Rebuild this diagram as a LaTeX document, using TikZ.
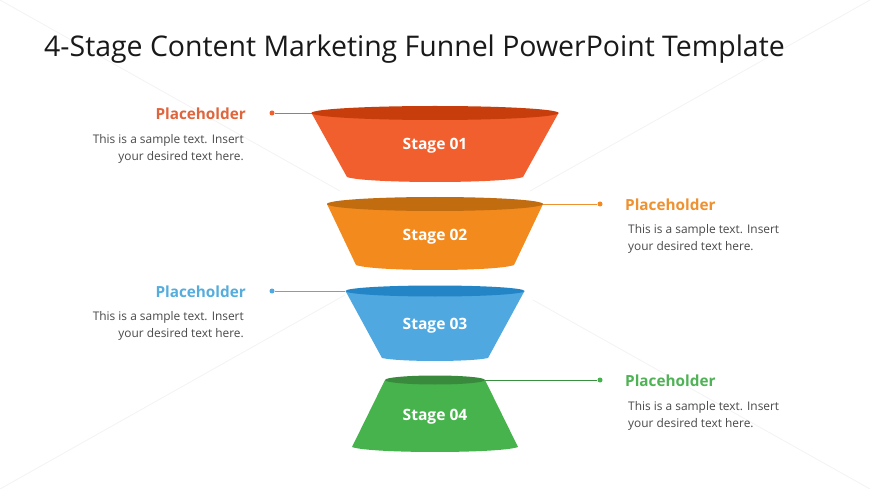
\documentclass[tikz,border=0pt]{standalone}
\usepackage{fontspec}
\setmainfont{Open Sans}
\definecolor{orgA}{HTML}{F15F2E}\definecolor{orgAd}{HTML}{C73E0C}\definecolor{orgAt}{HTML}{E0653C}
\definecolor{ambA}{HTML}{F28A1E}\definecolor{ambAd}{HTML}{C26C10}\definecolor{ambAt}{HTML}{EE9130}
\definecolor{bluA}{HTML}{4FA8E0}\definecolor{bluAd}{HTML}{2384C6}\definecolor{bluAt}{HTML}{55ADDD}
\definecolor{grnA}{HTML}{46B34D}\definecolor{grnAd}{HTML}{3A8A3E}\definecolor{grnAt}{HTML}{4FB256}
\definecolor{bodytxt}{HTML}{4A4A4A}
\tikzset{
 x=1pt,y=-1pt,
 titletext/.style={anchor=west,inner sep=0,font=\fontsize{28.45}{32}\selectfont,text=black!90},
 stagetext/.style={inner sep=0,text=white,font=\fontsize{15.6}{18}\selectfont\bfseries},
 headtext/.style={inner sep=0,font=\fontsize{15.3}{18}\selectfont\bfseries},
 bodyr/.style={inner sep=0,anchor=east,text=bodytxt,font=\fontsize{11.9}{14}\selectfont},
 bodyl/.style={inner sep=0,anchor=west,text=bodytxt,font=\fontsize{11.9}{14}\selectfont},
 dotnode/.style={circle,inner sep=0,minimum size=5pt},
 leader/.style={line width=0.8pt},
 faint/.style={line width=0.7pt,black!5},
}
% #1 fill, #2 dark, #3 top y, #4 top half width, #5 top half height, #6 bottom y, #7 bottom half width, #8 bulge
\newcommand{\funnelpart}[8]{%
 \fill[#1] (435-#4,#3) -- (435-#7,#6) .. controls (435-#7+18,#6+#8*1.33) and (435+#7-18,#6+#8*1.33) .. (435+#7,#6) -- (435+#4,#3) -- cycle;
 \fill[#2] (435,#3) ellipse [x radius=#4,y radius=-#5];
}
\begin{document}
\begin{tikzpicture}
\useasboundingbox (0,0) rectangle (870,489);
\fill[white] (0,0) rectangle (870,489);
\coordinate (fa) at (0,0);\coordinate (fb) at (340,191);
\coordinate (fc) at (530,191);\coordinate (fd) at (870,0);
\coordinate (fe) at (0,489);\coordinate (ff) at (345,295);
\coordinate (fg) at (533,300);\coordinate (fh) at (870,489);
\draw[faint] (fa) -- (fb);
\draw[faint] (fc) -- (fd);
\draw[faint] (fe) -- (ff);
\draw[faint] (fg) -- (fh);
\node[titletext] (title) at (44,49) {4-Stage Content Marketing Funnel PowerPoint Template};

\coordinate (e1) at (312,113);
\coordinate (e2) at (543,204);
\coordinate (e3) at (345,291);
\coordinate (e4) at (485,380);
\node[dotnode,fill=orgA] (d1) at (272,113) {};
\node[dotnode,fill=ambA] (d2) at (600,204) {};
\node[dotnode,fill=bluA] (d3) at (272,291) {};
\node[dotnode,fill=grnA] (d4) at (600,380) {};
\draw[leader,orgAt] (d1) -- (e1);
\draw[leader,ambAt] (e2) -- (d2);
\draw[leader,bluAt] (d3) -- (e3);
\draw[leader,grnA!80!black] (e4) -- (d4);

\funnelpart{orgA}{orgAd}{113}{123.5}{7}{177}{88}{5}
\funnelpart{ambA}{ambAd}{204}{108}{7}{265}{79}{5}
\funnelpart{bluA}{bluAd}{291}{89.5}{5.5}{358}{53}{3}
\funnelpart{grnA}{grnAd}{380}{50}{4.5}{447}{83}{5}

\node[stagetext] (s1) at (435,146) {Stage 01};
\node[stagetext] (s2) at (435,236.5) {Stage 02};
\node[stagetext] (s3) at (435,325.5) {Stage 03};
\node[stagetext] (s4) at (435,416.5) {Stage 04};

\node[headtext,text=orgAt,anchor=east] (h1) at (246,114) {Placeholder};
\node[bodyr] (b1a) at (244,140) {This is a sample text. Insert};
\node[bodyr] (b1b) at (244,157) {your desired text here.};

\node[headtext,text=ambAt,anchor=west] (h2) at (625,204.5) {Placeholder};
\node[bodyl] (b2a) at (628,230) {This is a sample text. Insert};
\node[bodyl] (b2b) at (628,247) {your desired text here.};

\node[headtext,text=bluAt,anchor=east] (h3) at (246,291.5) {Placeholder};
\node[bodyr] (b3a) at (244,317) {This is a sample text. Insert};
\node[bodyr] (b3b) at (244,334) {your desired text here.};

\node[headtext,text=grnAt,anchor=west] (h4) at (625,381) {Placeholder};
\node[bodyl] (b4a) at (628,407) {This is a sample text. Insert};
\node[bodyl] (b4b) at (628,424) {your desired text here.};
\end{tikzpicture}
\end{document}
